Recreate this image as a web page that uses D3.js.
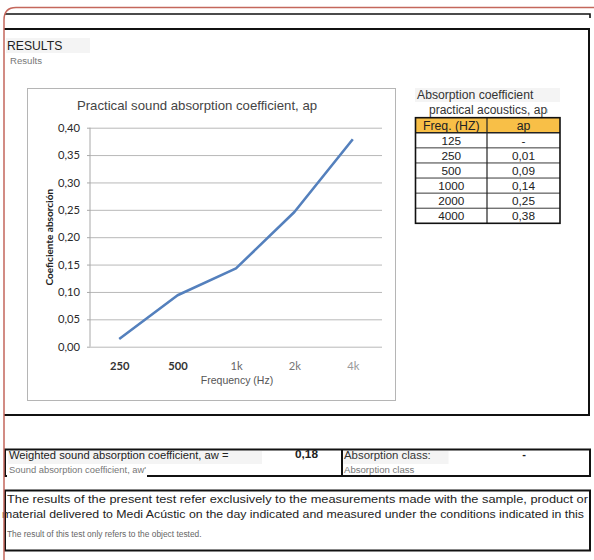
<!DOCTYPE html>
<html>
<head>
<meta charset="utf-8">
<script src="https://cdn.jsdelivr.net/npm/d3@7"></script>
<style>
  body { margin: 0; background: #fff; }
  svg { display: block; }
  text { font-family: "Liberation Sans", Arial, sans-serif; }
  .calib { font-family: Lato, "Open Sans", sans-serif; }
</style>
</head>
<body>
<div id="chart-div"></div>
<script>
// chart data
var freqLabels = ["250", "500", "1k", "2k", "4k"];
var apValues = [0.014, 0.094, 0.143, 0.246, 0.379];
var yTicks = [0, 0.05, 0.10, 0.15, 0.20, 0.25, 0.30, 0.35, 0.40];

// table data
var tableFreqs = ["125", "250", "500", "1000", "2000", "4000"];
var tableAp = ["-", "0,01", "0,09", "0,14", "0,25", "0,38"];

// summary values
var awValue = "0,18";
var absClass = "-";

var width = 594, height = 560;

var svg = d3.select("#chart-div").append("svg")
    .attr("width", width)
    .attr("height", height)
    .attr("viewBox", [0, 0, width, height]);

// ---- page frames ----
svg.append("path").attr("d", "M4,29 H589 V415 H4")
    .attr("fill", "none").attr("stroke", "#111").attr("stroke-width", 2);

svg.append("path").attr("d", "M5,14 H590 V18")
    .attr("fill", "none").attr("stroke", "#111").attr("stroke-width", 1.6);

// RESULTS header
svg.append("rect").attr("x", 6).attr("y", 38).attr("width", 84).attr("height", 15).attr("fill", "#f4f4f4");
svg.append("text").attr("x", 7).attr("y", 50).attr("font-size", 12.2).attr("fill", "#222").text("RESULTS");
svg.append("text").attr("x", 10).attr("y", 63.5).attr("font-size", 9.6).attr("fill", "#777").text("Results");

// ---- line chart ----
var frame = {x: 27.5, y: 88.5, w: 368, h: 312};
svg.append("rect").attr("x", frame.x).attr("y", frame.y).attr("width", frame.w).attr("height", frame.h)
    .attr("fill", "#fff").attr("stroke", "#b5b5b5").attr("stroke-width", 1);

svg.append("text").attr("x", 197).attr("y", 109.5).attr("text-anchor", "middle")
    .attr("font-size", 13.2).attr("fill", "#444")
    .text("Practical sound absorption coefficient, ap");

var plot = {left: 90, right: 382, top: 127.7, bottom: 346.7};

var x = d3.scalePoint()
    .domain(freqLabels)
    .range([plot.left, plot.right])
    .padding(0.5);

var y = d3.scaleLinear()
    .domain([0, 0.4])
    .range([plot.bottom, plot.top]);

var fmt = function(d) { return d.toFixed(2).replace(".", ","); };

// gridlines
svg.append("g")
    .attr("class", "grid")
    .attr("transform", "translate(" + plot.left + ",0)")
    .call(d3.axisLeft(y).tickValues(yTicks).tickSize(-(plot.right - plot.left)).tickFormat(""))
    .call(function(g) { g.select(".domain").remove(); })
    .call(function(g) { g.selectAll("line").attr("stroke", "#b8b8b8").attr("stroke-width", 1); });

// y axis
svg.append("g")
    .attr("class", "y axis")
    .attr("transform", "translate(" + plot.left + ",0)")
    .call(d3.axisLeft(y).tickValues(yTicks).tickSize(3).tickPadding(7).tickFormat(fmt))
    .call(function(g) {
        g.select(".domain").attr("stroke", "#a8a8a8").attr("d", "M0," + plot.top + "V" + plot.bottom);
        g.selectAll("line").attr("stroke", "#a8a8a8");
        g.selectAll("text").attr("class", "calib").attr("font-size", 11.2).attr("fill", "#2a2a2a");
    });

svg.append("text")
    .attr("class", "calib")
    .attr("transform", "translate(53," + ((plot.top + plot.bottom) / 2) + ") rotate(-90)")
    .attr("text-anchor", "middle")
    .attr("font-size", 10)
    .attr("font-weight", "bold")
    .attr("fill", "#222")
    .text("Coeficiente absorción");

// x axis
var xColors = ["#333", "#333", "#666", "#777", "#999"];
var xWeights = ["bold", "bold", "normal", "normal", "normal"];
svg.append("g")
    .attr("class", "x axis")
    .attr("transform", "translate(0," + plot.bottom + ")")
    .call(d3.axisBottom(x).tickSize(0).tickPadding(15))
    .call(function(g) {
        g.select(".domain").remove();
        g.selectAll("text")
            .attr("class", "calib")
            .attr("font-size", 11.2)
            .attr("fill", function(d, i) { return xColors[i]; })
            .attr("font-weight", function(d, i) { return xWeights[i]; });
    });

svg.append("text").attr("x", 237).attr("y", 384).attr("text-anchor", "middle")
    .attr("font-size", 10.5).attr("fill", "#555").text("Frequency (Hz)");

var line = d3.line()
    .x(function(d, i) { return x(freqLabels[i]); })
    .y(function(d) { return y(d); });

svg.append("path")
    .datum(apValues)
    .attr("fill", "none")
    .attr("stroke", "#5480bd")
    .attr("stroke-width", 2.6)
    .attr("stroke-linejoin", "round")
    .attr("d", line);

// ---- table ----
svg.append("rect").attr("x", 415).attr("y", 88).attr("width", 145).attr("height", 14).attr("fill", "#f4f4f4");
svg.append("text").attr("x", 417).attr("y", 98.5).attr("font-size", 12.2).attr("fill", "#333")
    .text("Absorption coefficient");
svg.append("text").attr("x", 429).attr("y", 113.5).attr("font-size", 12).attr("fill", "#333")
    .text("practical acoustics, ap");
svg.append("text").attr("x", 546).attr("y", 112.5).attr("font-size", 8).attr("fill", "#aaa").text("ı");

var tbl = {left: 415.5, mid: 487, right: 560, top: 117.7, bottom: 223.3};
var rows = ["head"].concat(tableFreqs);
var rowY = d3.scaleBand()
    .domain(d3.range(rows.length))
    .range([tbl.top, tbl.bottom]);

svg.append("rect")
    .attr("x", tbl.left).attr("y", rowY(0))
    .attr("width", tbl.right - tbl.left).attr("height", rowY.bandwidth())
    .attr("fill", "#f8bf47");

var tg = svg.append("g").attr("class", "table");
tg.selectAll(".rowline")
    .data(d3.range(1, rows.length))
    .enter().append("line")
    .attr("x1", tbl.left).attr("x2", tbl.right)
    .attr("y1", function(d) { return rowY(d); })
    .attr("y2", function(d) { return rowY(d); })
    .attr("stroke", "#222")
    .attr("stroke-width", function(d) { return d === 1 ? 1.5 : 0.9; });

tg.append("line").attr("x1", tbl.mid).attr("x2", tbl.mid).attr("y1", tbl.top).attr("y2", tbl.bottom)
    .attr("stroke", "#222").attr("stroke-width", 1.2);
tg.append("rect").attr("x", tbl.left).attr("y", tbl.top)
    .attr("width", tbl.right - tbl.left).attr("height", tbl.bottom - tbl.top)
    .attr("fill", "none").attr("stroke", "#111").attr("stroke-width", 1.6);

var colFreq = ["Freq. (HZ)"].concat(tableFreqs);
var colAp = ["ap"].concat(tableAp);
tg.selectAll(".cfreq")
    .data(colFreq)
    .enter().append("text")
    .attr("x", (tbl.left + tbl.mid) / 2)
    .attr("y", function(d, i) { return rowY(i) + rowY.bandwidth() / 2 + 4.3; })
    .attr("text-anchor", "middle")
    .attr("font-size", function(d, i) { return i === 0 ? 12.3 : 11.8; })
    .attr("fill", "#222")
    .text(function(d) { return d; });
tg.selectAll(".cap")
    .data(colAp)
    .enter().append("text")
    .attr("x", (tbl.mid + tbl.right) / 2)
    .attr("y", function(d, i) { return rowY(i) + rowY.bandwidth() / 2 + 4.3; })
    .attr("text-anchor", "middle")
    .attr("font-size", function(d, i) { return i === 0 ? 12.3 : 11.8; })
    .attr("fill", "#222")
    .text(function(d) { return d; });

// ---- weighted coefficient box ----
svg.append("rect").attr("x", 5).attr("y", 449.5).attr("width", 585).attr("height", 26.5)
    .attr("fill", "none").attr("stroke", "#111").attr("stroke-width", 2);
svg.append("line").attr("x1", 342).attr("x2", 342).attr("y1", 449.5).attr("y2", 476)
    .attr("stroke", "#111").attr("stroke-width", 2);
svg.append("rect").attr("x", 8).attr("y", 451).attr("width", 254).attr("height", 13).attr("fill", "#f4f4f4");
svg.append("rect").attr("x", 343.5).attr("y", 451).attr("width", 105).attr("height", 13).attr("fill", "#f4f4f4");
svg.append("rect").attr("x", 7).attr("y", 465).attr("width", 140).attr("height", 12).attr("fill", "#fff");

svg.append("text").attr("x", 9).attr("y", 459).attr("font-size", 11.2).attr("fill", "#222")
    .text("Weighted sound absorption coefficient, aw =");
svg.append("text").attr("x", 9).attr("y", 473).attr("font-size", 9.4).attr("fill", "#777")
    .text("Sound absorption coefficient, aw'");
svg.append("text").attr("x", 318).attr("y", 458).attr("text-anchor", "end").attr("font-size", 11.8)
    .attr("font-weight", "bold").attr("fill", "#222").text(awValue);
svg.append("text").attr("x", 344).attr("y", 458.5).attr("font-size", 11.4).attr("fill", "#333")
    .text("Absorption class:");
svg.append("text").attr("x", 344).attr("y", 473).attr("font-size", 9.6).attr("fill", "#777")
    .text("Absorption class");
svg.append("text").attr("x", 524).attr("y", 458).attr("text-anchor", "middle").attr("font-size", 11)
    .attr("font-weight", "bold").attr("fill", "#222").text(absClass);

// ---- disclaimer box ----
svg.append("rect").attr("x", 5).attr("y", 490.5).attr("width", 585).attr("height", 60)
    .attr("fill", "none").attr("stroke", "#111").attr("stroke-width", 2);
svg.append("text").attr("x", 7).attr("y", 502.5).attr("font-size", 11.8).attr("fill", "#222")
    .attr("textLength", 581).attr("lengthAdjust", "spacingAndGlyphs")
    .text("The results of the present test refer exclusively to the measurements made with the sample, product or");
svg.append("text").attr("x", 2).attr("y", 517.5).attr("font-size", 11.8).attr("fill", "#222")
    .attr("textLength", 582).attr("lengthAdjust", "spacingAndGlyphs")
    .text("material delivered to Medi Acústic on the day indicated and measured under the conditions indicated in this");
svg.append("text").attr("x", 7).attr("y", 537).attr("font-size", 8.4).attr("fill", "#666")
    .text("The result of this test only refers to the object tested.");

// red page border on top
svg.append("path").attr("d", "M594,7.5 H16 Q4,7.5 4,20 V560")
    .attr("fill", "none").attr("stroke", "#c4675c").attr("stroke-width", 1.5);
</script>
</body>
</html>
